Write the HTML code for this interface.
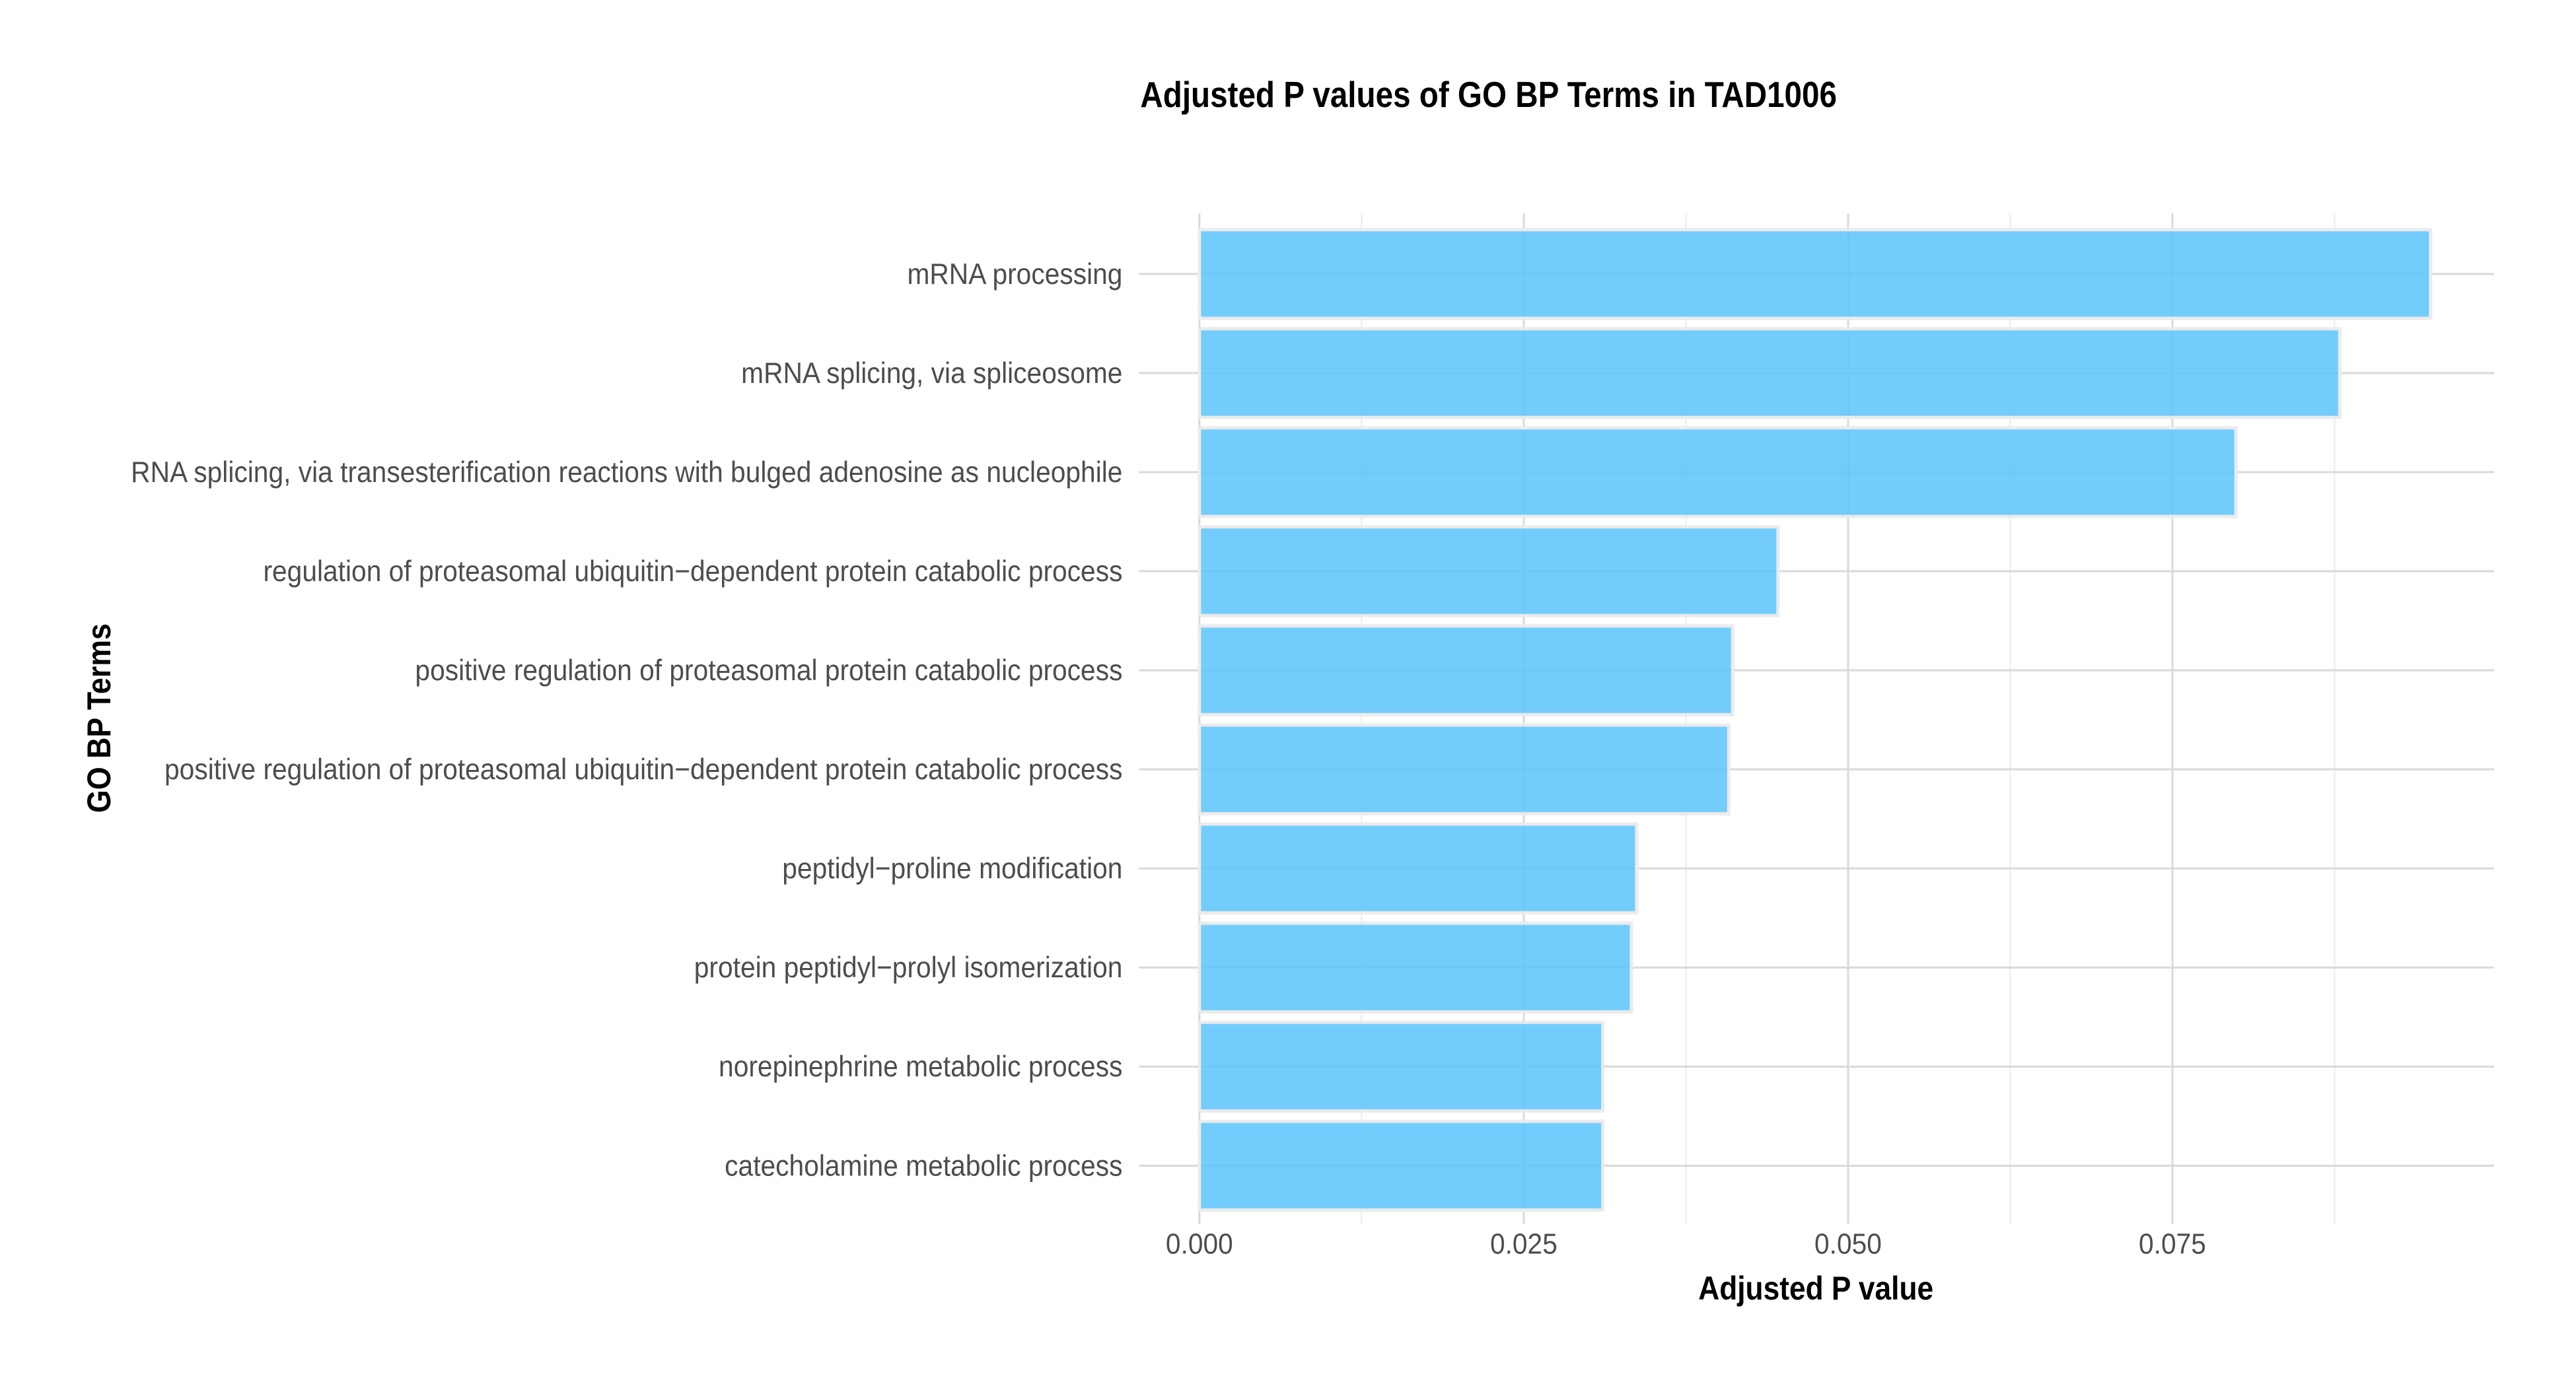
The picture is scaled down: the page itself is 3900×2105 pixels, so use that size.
<!DOCTYPE html>
<html><head><meta charset="utf-8"><style>
html,body{margin:0;padding:0;background:#fff;}
svg text{font-family:"Liberation Sans Narrow","Liberation Sans",sans-serif;}
</style></head><body>
<svg id="chart" width="3900" height="2100" xmlns="http://www.w3.org/2000/svg">
<rect width="3900" height="2100" fill="#fff"/>
<g transform="scale(0.995)">
<text transform="translate(2265,163) scale(0.87,1)" text-anchor="middle" font-size="55" font-weight="bold" fill="#000">Adjusted P values of GO BP Terms in TAD1006</text>
<g id="grid"></g><g id="bars"></g><g id="labels"></g>
<text transform="translate(2763,1978) scale(0.89,1)" text-anchor="middle" font-size="50" font-weight="bold" fill="#000">Adjusted P value</text>
<text transform="translate(168,1093) rotate(-90) scale(0.9,1)" text-anchor="middle" font-size="50" font-weight="bold" fill="#000">GO BP Terms</text>
</g>
</svg>
<script>
const categories=["mRNA processing","mRNA splicing, via spliceosome","RNA splicing, via transesterification reactions with bulged adenosine as nucleophile","regulation of proteasomal ubiquitin\u2212dependent protein catabolic process","positive regulation of proteasomal protein catabolic process","positive regulation of proteasomal ubiquitin\u2212dependent protein catabolic process","peptidyl\u2212proline modification","protein peptidyl\u2212prolyl isomerization","norepinephrine metabolic process","catecholamine metabolic process"];
const values=[0.0949,0.0879,0.0799,0.0446,0.0411,0.0408,0.0337,0.0333,0.0311,0.0311];
const xTicks=[0,0.025,0.05,0.075];
const xTickLabels=["0.000","0.025","0.050","0.075"];
const NS="http://www.w3.org/2000/svg";
const x0=1825,perUnit=493.5/0.025,pl=1733,pr=3795,pt=325,pb=1863,yTop=417,step=150.8,bh=135;
const X=v=>x0+v*perUnit, Y=i=>yTop+i*step;
function mk(t,a,p){const e=document.createElementNS(NS,t);for(const k in a)e.setAttribute(k,a[k]);p.appendChild(e);return e;}
const grid=document.getElementById('grid'),bars=document.getElementById('bars'),labels=document.getElementById('labels');
for(let v=0.0125;X(v)<pr;v+=0.025){const l=mk('line',{x1:X(v),x2:X(v),y1:pt,y2:pb,stroke:'#ebebeb','stroke-width':2},grid);

}
xTicks.forEach((v,i)=>{const l=mk('line',{x1:X(v),x2:X(v),y1:pt,y2:pb,stroke:'#d9d9d9','stroke-width':3},grid);


const t=mk('text',{transform:`translate(${X(v)},1908) scale(0.93,1)`,'text-anchor':'middle','font-size':44,fill:'#4d4d4d'},labels);t.textContent=xTickLabels[i];

});
categories.forEach((c,i)=>{const l=mk('line',{x1:pl,x2:pr,y1:Y(i),y2:Y(i),stroke:'#d9d9d9','stroke-width':3},grid);


const r=mk('rect',{x:X(0),y:Y(i)-bh/2,width:X(values[i])-X(0),height:bh,fill:'#5ac4fb','fill-opacity':0.85,stroke:'#ebebeb','stroke-width':5},bars);


const t=mk('text',{transform:`translate(1708,${Y(i)+15}) scale(0.91,1)`,'text-anchor':'end','font-size':45,fill:'#4d4d4d'},labels);t.textContent=c;

});
</script>
</body></html>
